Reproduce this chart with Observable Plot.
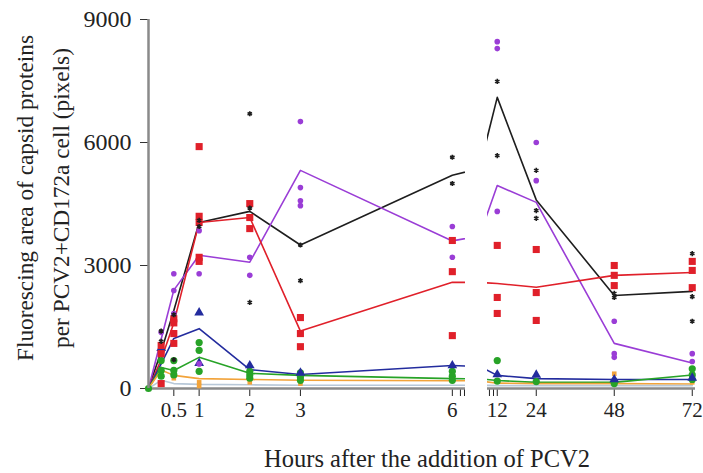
<!DOCTYPE html>
<html><head><meta charset="utf-8">
<script src="https://cdn.jsdelivr.net/npm/d3@7"></script>
<script src="https://cdn.jsdelivr.net/npm/@observablehq/plot@0.6"></script>
<style>
body{margin:0;background:#fff;}
#wrap{position:relative;width:703px;height:473px;overflow:hidden;background:#fff;}
#wrap svg{position:absolute;left:0;top:0;}
</style></head><body><div id="wrap"></div>
<script>
// ---------- data ----------
const hours = [0, 0.25, 0.5, 1, 2, 3, 6, 12, 24, 48, 72];
const seriesNames = ["S1", "S2", "S3", "S4", "S5", "S6", "S7"];
const seriesColors = ["#1e1e1e", "#9a3dd6", "#e0202a", "#232c9e", "#27a327", "#f2a33a", "#b8c8d8"];

const meanS1 = [0, 900, 1900, 4050, 4320, 3500, 5200, 7100, 4600, 2270, 2370];
const meanS2 = [0, 1200, 2400, 3250, 3080, 5320, 3600, 4950, 4540, 1100, 620];
const meanS3 = [0, 700, 1600, 4050, 4170, 1400, 2590, 2560, 2470, 2760, 2830];
const meanS4 = [0, 600, 1220, 1460, 460, 340, 560, 320, 240, 220, 220];
const meanS5 = [0, 510, 440, 760, 370, 320, 240, 195, 150, 150, 330];
const meanS6 = [0, 450, 320, 240, 220, 200, 190, 130, 120, 120, 110];
const meanS7 = [0, 200, 120, 100, 90, 80, 80, 70, 70, 70, 70];

const ptsS1 = [[0.25,1400],[0.25,1150],[0.5,1800],[0.5,700],[1,4100],[1,3950],[2,6700],[2,4400],[2,2100],[3,3500],[3,2630],[6,5640],[6,5000],[12,7490],[12,5680],[24,5320],[24,4340],[24,4150],[48,2220],[48,2320],[72,3290],[72,2240],[72,1640]];
const ptsS2 = [[0.25,1370],[0.5,2800],[0.5,2390],[0.5,1830],[1,3850],[1,2800],[1,600],[2,3200],[2,2760],[3,6510],[3,4900],[3,4580],[3,4460],[6,3950],[6,3200],[12,8460],[12,8290],[12,4320],[24,6000],[24,5070],[48,1640],[48,850],[48,760],[72,850],[72,660]];
const ptsS3 = [[0.25,1050],[0.25,850],[0.25,120],[0.5,1700],[0.5,1600],[0.5,1340],[0.5,1100],[1,5900],[1,4200],[1,4050],[1,3200],[1,3100],[2,4510],[2,4170],[2,3900],[3,1730],[3,1340],[3,1020],[6,3610],[6,2850],[6,1290],[12,3490],[12,2220],[12,1830],[24,3390],[24,2340],[24,1660],[48,3000],[48,2760],[48,2510],[72,3100],[72,2880],[72,2460]];
const ptsS4 = [[0.25,980],[1,1850],[1,620],[2,560],[3,380],[6,560],[12,340],[24,330],[48,220],[72,260]];
const ptsS5 = [[0,0],[0.25,680],[0.25,440],[0.25,300],[0.5,680],[0.5,440],[0.5,330],[1,1120],[1,930],[1,420],[2,420],[2,330],[2,250],[3,380],[3,280],[3,200],[6,420],[6,300],[6,200],[12,680],[12,180],[24,170],[48,170],[48,120],[72,480],[72,330],[72,220]];
const ptsS6 = [[0.5,250],[1,150],[1,60],[2,150],[3,120],[48,360],[72,150]];

const yTicks = [0, 3000, 6000, 9000];
const leftTicks = [0.5, 1, 2, 3, 6];
const rightTicks = [12, 24, 48, 72];
const leftBreakTicks = [6.16, 6.24];
const rightBreakTicks = [9.6, 10.85];
const yTitle = "Fluorescing area of capsid proteins\nper PCV2+CD172a cell (pixels)";
const xTitle = "Hours after the addition of PCV2";

// ---------- tables ----------
const means = [meanS1, meanS2, meanS3, meanS4, meanS5, meanS6, meanS7];
const meanRows = seriesNames.flatMap((s, k) => hours.map((h, i) => ({series: s, hour: h, value: means[k][i]})));
const toRows = (arr, s) => arr.map(([h, v]) => ({series: s, hour: h, value: v}));
const pts = {
  S1: toRows(ptsS1, "S1"), S2: toRows(ptsS2, "S2"), S3: toRows(ptsS3, "S3"),
  S4: toRows(ptsS4, "S4"), S5: toRows(ptsS5, "S5"), S6: toRows(ptsS6, "S6")
};
const font = "'Liberation Serif','Times New Roman',serif";

function dotMarks(filter) {
  const f = (rows) => rows.filter(filter);
  return [
    Plot.dot(f(pts.S6), {x: "hour", y: "value", symbol: "square", r: 2.6, fill: seriesColors[5]}),
    Plot.dot(f(pts.S5), {x: "hour", y: "value", symbol: "circle", r: 3.6, fill: seriesColors[4]}),
    Plot.dot(f(pts.S4), {x: "hour", y: "value", symbol: "triangle", r: 3.6, fill: seriesColors[3]}),
    Plot.dot(f(pts.S3), {x: "hour", y: "value", symbol: "square", r: 4, fill: seriesColors[2]}),
    Plot.dot(f(pts.S2), {x: "hour", y: "value", symbol: "circle", r: 2.8, fill: seriesColors[1]}),
    Plot.dot(f(pts.S1), {x: "hour", y: "value", symbol: "asterisk", r: 2.4, stroke: seriesColors[0], strokeWidth: 1.6})
  ];
}

const common = {
  width: 703, height: 473, marginTop: 19, marginBottom: 85,
  color: {domain: seriesNames, range: seriesColors}
};

const left = Plot.plot({
  ...common,
  marginLeft: 148, marginRight: 238,
  x: {domain: [0, 6.26]},
  y: {domain: [0, 9000]},
  style: {fontFamily: font, fontSize: "21px", background: "white", color: "#222"},
  marks: [
    Plot.axisY({ticks: yTicks, tickSize: 8, tickPadding: 9, fontSize: 24, label: null, stroke: "#333",
      tickFormat: d => String(d)}),
    Plot.axisX({ticks: [...leftTicks, ...leftBreakTicks], tickSize: 8, tickPadding: 6, label: null, stroke: "#222",
      tickFormat: d => leftBreakTicks.includes(d) ? "" : String(d)}),
    Plot.ruleY([0], {stroke: "#8a8a8a", strokeWidth: 2.5}),
    Plot.line(meanRows, {x: "hour", y: "value", z: "series", stroke: "series", strokeWidth: 1.6, clip: true}),
    ...dotMarks(d => d.hour <= 6),
    Plot.ruleX([0], {stroke: "#8a8a8a", strokeWidth: 2.5}),
    Plot.text([yTitle], {frameAnchor: "left", textAnchor: "middle", lineAnchor: "middle", rotate: -90,
      dx: -109, dy: -6, fontSize: 23.3, lineHeight: 1.55, fill: "#222"}),
    Plot.text([xTitle], {frameAnchor: "bottom", textAnchor: "middle", dx: 120, dy: 78, fontSize: 24.5, fill: "#222"})
  ]
});

const right = Plot.plot({
  ...common,
  marginLeft: 487, marginRight: 8,
  x: {domain: [9, 73]},
  y: {domain: [0, 9000], axis: null},
  style: {fontFamily: font, fontSize: "21px", background: "transparent", color: "#222"},
  marks: [
    Plot.axisX({ticks: [...rightTicks, ...rightBreakTicks], tickSize: 8, tickPadding: 6, label: null, stroke: "#222",
      tickFormat: d => rightBreakTicks.includes(d) ? "" : String(d)}),
    Plot.ruleY([0], {stroke: "#8a8a8a", strokeWidth: 2.5}),
    Plot.line(meanRows, {x: "hour", y: "value", z: "series", stroke: "series", strokeWidth: 1.6, clip: true}),
    ...dotMarks(d => d.hour >= 12)
  ]
});

const wrap = document.getElementById("wrap");
wrap.appendChild(left);
wrap.appendChild(right);
</script>
</body></html>
